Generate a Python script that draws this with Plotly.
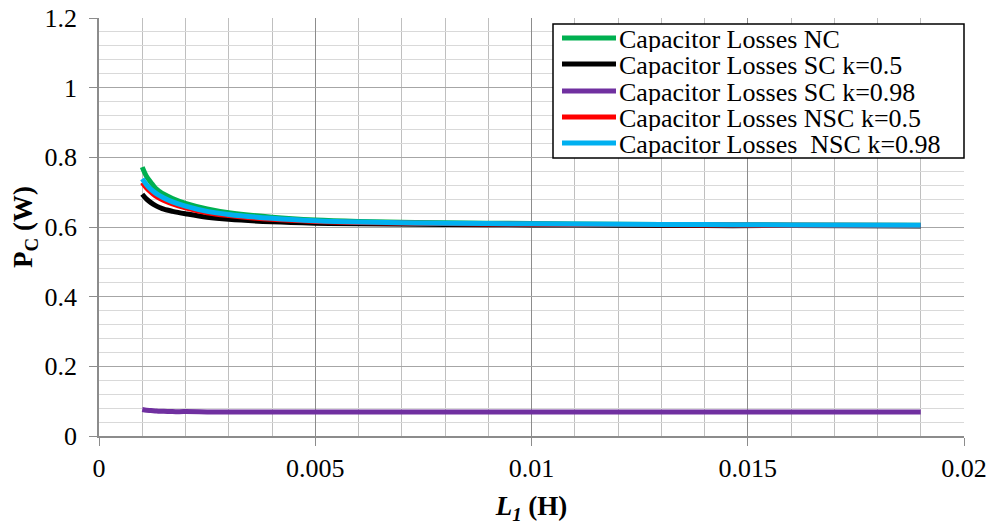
import plotly.graph_objects as go

L1 = [0.001, 0.0011, 0.0012, 0.0013, 0.0014, 0.0015, 0.0017, 0.002, 0.0025, 0.003, 0.004, 0.005,
      0.006, 0.008, 0.010, 0.012, 0.014, 0.016, 0.019]

nc = [0.772, 0.745, 0.728, 0.712, 0.702, 0.694, 0.682, 0.668, 0.652, 0.641, 0.628, 0.620,
      0.616, 0.612, 0.610, 0.608, 0.607, 0.606, 0.605]
sc_05 = [0.694, 0.680, 0.670, 0.662, 0.656, 0.651, 0.645, 0.638, 0.628, 0.622, 0.615, 0.611,
         0.609, 0.607, 0.606, 0.605, 0.604, 0.604, 0.603]
sc_098 = [0.076, 0.074, 0.073, 0.072, 0.071, 0.071, 0.070, 0.070, 0.069, 0.069, 0.069, 0.069,
          0.069, 0.069, 0.069, 0.069, 0.069, 0.069, 0.069]
nsc_05 = [0.728, 0.712, 0.700, 0.690, 0.682, 0.676, 0.666, 0.655, 0.641, 0.633, 0.622, 0.616,
          0.613, 0.610, 0.608, 0.607, 0.606, 0.605, 0.604]
nsc_098 = [0.738, 0.721, 0.708, 0.698, 0.690, 0.683, 0.672, 0.660, 0.645, 0.636, 0.625, 0.618,
           0.614, 0.611, 0.609, 0.608, 0.607, 0.606, 0.605]

names = ["Capacitor Losses NC", "Capacitor Losses SC k=0.5", "Capacitor Losses SC k=0.98",
         "Capacitor Losses NSC k=0.5", "Capacitor Losses &nbsp;NSC k=0.98"]
values = [nc, sc_05, sc_098, nsc_05, nsc_098]
colors = ["#00b050", "#000000", "#7030a0", "#ff0000", "#00b0f0"]

W, H = 992, 527
ML, MR, MT, MB = 99, 28, 18, 91
PW, PH = W - ML - MR, H - MT - MB

def px_x(p):
    return (p - ML) / PW

def px_y(p):
    return (H - MB - p) / PH

fig = go.Figure()
for name, ys, color in zip(names, values, colors):
    fig.add_trace(go.Scatter(x=L1, y=ys, mode="lines", name=name, showlegend=False,
                             line=dict(color=color, width=5, shape="spline")))

font = "Liberation Serif, Times New Roman, serif"

# legend box (drawn in paper coordinates, like the reference's legend)
shapes = [dict(type="rect", xref="paper", yref="paper",
               x0=px_x(553), x1=px_x(964), y0=px_y(158), y1=px_y(24),
               line=dict(color="black", width=1.5), fillcolor="white", layer="above")]
annotations = []
row_y = [38, 64, 91, 117, 143]
for name, color, ry in zip(names, colors, row_y):
    shapes.append(dict(type="line", xref="paper", yref="paper",
                       x0=px_x(562), x1=px_x(616), y0=px_y(ry), y1=px_y(ry),
                       line=dict(color=color, width=5), layer="above"))
    annotations.append(dict(xref="paper", yref="paper", x=px_x(618), y=px_y(ry + 1),
                            xanchor="left", yanchor="middle", text=name, showarrow=False,
                            height=26, valign="middle", borderpad=0,
                            font=dict(family=font, size=26, color="black")))

fig.update_layout(
    width=W, height=H,
    margin=dict(l=ML, r=MR, t=MT, b=MB),
    paper_bgcolor="white", plot_bgcolor="white",
    font=dict(family=font, size=26, color="black"),
    showlegend=False,
    shapes=shapes, annotations=annotations,
    xaxis=dict(range=[0, 0.02], dtick=0.005, tick0=0, automargin=False,
               tickfont=dict(family=font, size=26, color="black"),
               ticklabeloverflow="allow",
               showgrid=True, gridcolor="#8c8c8c", gridwidth=1,
               minor=dict(dtick=0.001, showgrid=True, gridcolor="#bfbfbf", gridwidth=1),
               showline=True, linecolor="#8c8c8c", linewidth=1.5,
               ticks="outside", ticklen=8, tickcolor="#8c8c8c",
               zeroline=False,
               title=dict(text="<b><i>L<sub>1</sub></i> (H)</b>",
                          font=dict(family=font, size=27), standoff=14)),
    yaxis=dict(range=[0, 1.2], dtick=0.2, tick0=0, automargin=False,
               tickfont=dict(family=font, size=26, color="black"),
               ticklabeloverflow="allow", ticklabelstandoff=7,
               showgrid=True, gridcolor="#a6a6a6", gridwidth=1,
               minor=dict(dtick=0.04, showgrid=True, gridcolor="#d9d9d9", gridwidth=1),
               showline=True, linecolor="#8c8c8c", linewidth=1.5,
               ticks="outside", ticklen=8, tickcolor="#8c8c8c",
               zeroline=False,
               title=dict(text="<b>P<sub>C</sub> (W)</b>",
                          font=dict(family=font, size=27), standoff=4)),
)

fig.write_html("out.html", config={"displayModeBar": False},
               post_script="document.body.style.margin='0';document.body.style.overflow='hidden';")
